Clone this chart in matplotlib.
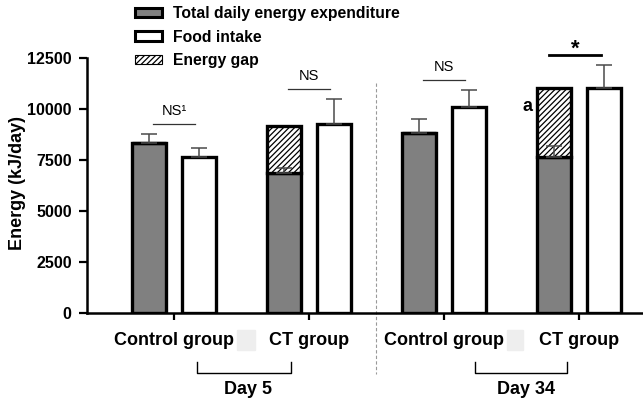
import matplotlib
matplotlib.use("Agg")
import matplotlib.pyplot as plt
from matplotlib.patches import Patch, Rectangle
import numpy as np

plt.rcParams['font.family'] = ['Liberation Sans', 'DejaVu Sans']
plt.rcParams['hatch.linewidth'] = 0.9

# ---- data ----
groups = ["Control group", "CT group", "Control group", "CT group"]
days = ["Day 5", "Day 34"]
tdee = [8350, 6880, 8840, 7660]
tdee_err = [425, 240, 670, 540]
intake = [7660, 9265, 10110, 11040]
intake_err = [440, 1210, 810, 1130]
gap = [0, 2290, 0, 3380]
sig_labels = ["NS¹", "NS", "NS", "*"]
yticks = [0, 2500, 5000, 7500, 10000, 12500]

fig = plt.figure(figsize=(6.43, 4.01), dpi=100)
ax = fig.add_axes([87/643, 88/401, 1 - 87/643, 255/401])

x = np.arange(len(groups))
off = 0.185
w = 0.25
edge_lw = 2.4

ax.bar(x - off, tdee, width=w, color='#808080', edgecolor='black', linewidth=edge_lw, zorder=2)
ax.bar(x - off, gap, bottom=tdee, width=w, color='white', edgecolor='black',
       linewidth=edge_lw, hatch='//////', zorder=2)
ax.bar(x + off, intake, width=w, color='white', edgecolor='black', linewidth=edge_lw, zorder=2)

ekw = dict(fmt='none', ecolor='#4a4a4a', elinewidth=1.1, capsize=6, capthick=1.1, zorder=4)
ax.errorbar(x - off, tdee, yerr=[np.zeros(4), tdee_err], **ekw)
ax.errorbar(x + off, intake, yerr=[np.zeros(4), intake_err], **ekw)

# significance annotations
for i, lab in enumerate(sig_labels):
    top = max(tdee[i] + tdee_err[i], intake[i] + intake_err[i], tdee[i] + gap[i])
    if lab == "*":
        ly = top + 480
        ax.plot([i - 0.22, i + 0.16], [ly, ly], color='black', lw=2.0, clip_on=False)
        ax.text(i - 0.03, ly - 250, lab, ha='center', va='bottom', fontsize=16,
                fontweight='bold', clip_on=False)
    else:
        ly = top + 500
        ax.plot([i - 0.155, i + 0.155], [ly, ly], color='#333333', lw=0.9, clip_on=False)
        ax.text(i, ly + 300, lab, ha='center', va='bottom', fontsize=10.5, clip_on=False)

ax.text(3 - off - 0.2, tdee[3] + gap[3] - 940, "a", ha='center', va='center',
        fontsize=13, fontweight='bold')

# dashed separator
ax.plot([1.5, 1.5], [11270, -3000], color='#999999', lw=0.8, ls=(0, (3, 2)),
        clip_on=False, zorder=1)

# day brackets
trans = ax.get_xaxis_transform()
for (x0, x1, xt), d in zip([(0.17, 0.867, 0.55), (2.23, 2.91, 2.61)], days):
    ax.plot([x0, x0, x1, x1], [-0.192, -0.235, -0.235, -0.192], color='black', lw=1.0,
            transform=trans, clip_on=False)
    ax.text(xt, -0.30, d, ha='center', va='center', fontsize=13, fontweight='bold',
            transform=trans)

# axes styling
ax.set_xlim(-0.644, 3.474)
ax.set_ylim(0, 12500)
ax.set_yticks(yticks)
ax.set_yticklabels([str(v) for v in yticks], fontsize=11.5, fontweight='bold')
ax.set_xticks(x)
ax.set_xticklabels(groups, fontsize=13, fontweight='bold')
ax.tick_params(axis='y', length=6, width=1.6, pad=5)
ax.tick_params(axis='x', length=5, width=1.6, pad=9)
for s in ['top', 'right']:
    ax.spines[s].set_visible(False)
for s in ['left', 'bottom']:
    ax.spines[s].set_linewidth(1.8)

fig.text(18/643, 1 - 183/401, "Energy (kJ/day)", rotation=90, ha='center', va='center',
         fontsize=13, fontweight='bold')

# light gray artefact squares
for px in [(237, 18), (507, 16)]:
    fig.patches.append(Rectangle((px[0]/643, 1 - 350/401), px[1]/643, 20/401,
                                 transform=fig.transFigure, color='#eeeeee', zorder=0))

handles = [Patch(facecolor='#808080', edgecolor='black', linewidth=2.2),
           Patch(facecolor='white', edgecolor='black', linewidth=2.2),
           Patch(facecolor='white', edgecolor='black', linewidth=0.8, hatch='//////')]
labels = ["Total daily energy expenditure", "Food intake", "Energy gap"]
fig.legend(handles, labels, loc='upper left', bbox_to_anchor=(135/643, 1 - 6/401),
           frameon=False, borderpad=0, borderaxespad=0, handlelength=1.7,
           handleheight=0.55, handletextpad=0.7, labelspacing=0.55,
           prop={'size': 11.3, 'weight': 'bold'})

fig.savefig("out.png", dpi=100)
